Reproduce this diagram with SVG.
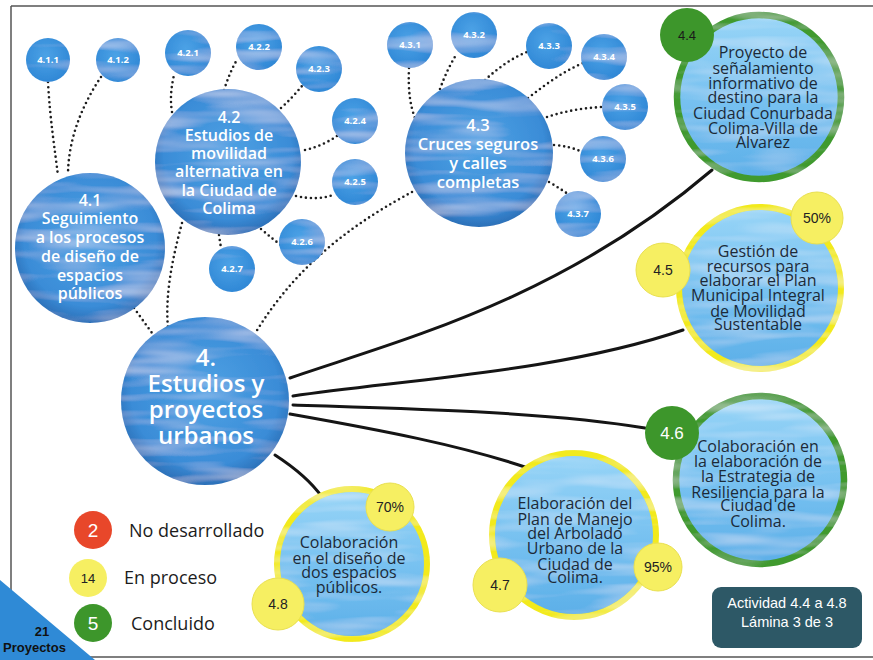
<svg xmlns="http://www.w3.org/2000/svg" width="873" height="660" viewBox="0 0 873 660">
<defs>
<radialGradient id="gBlue" cx="50%" cy="45%" r="55%">
<stop offset="0" stop-color="#4fa2e4"/><stop offset="0.8" stop-color="#3a8cd7"/><stop offset="1" stop-color="#2c70b8"/>
</radialGradient>
<radialGradient id="gSmall" cx="45%" cy="40%" r="60%">
<stop offset="0" stop-color="#4ca2e6"/><stop offset="1" stop-color="#3088d6"/>
</radialGradient>
<linearGradient id="gLight" x1="0" y1="0" x2="0" y2="1">
<stop offset="0" stop-color="#98d5f7"/><stop offset="0.6" stop-color="#72beef"/><stop offset="1" stop-color="#5cafe8"/>
</linearGradient>
<filter id="wc" x="-5%" y="-5%" width="110%" height="110%">
<feTurbulence type="fractalNoise" baseFrequency="0.01 0.08" numOctaves="2" seed="4" result="n"/>
<feColorMatrix in="n" type="matrix" values="0 0 0 0 1 0 0 0 0 1 0 0 0 0 1 0.7 0 0 0 -0.3" result="w"/>
<feComposite in="w" in2="SourceGraphic" operator="in" result="wt"/>
<feMerge><feMergeNode in="SourceGraphic"/><feMergeNode in="wt"/></feMerge>
</filter>
</defs>
<style>
.blue{fill:url(#gBlue);filter:url(#wc)}
.sm{fill:url(#gSmall);filter:url(#wc)}
.light{fill:url(#gLight);filter:url(#wc)}
.gring{stroke:#3f9a2e;stroke-width:6.5}
.yring{stroke:#f2ea1e;stroke-width:6}
.gdot{fill:#3d962b}
.ydot{fill:#f6ef62;stroke:#e9e050;stroke-width:1}
.dot{fill:none;stroke:#1e1e1e;stroke-width:2.6;stroke-dasharray:0 5;stroke-linecap:round}
.sol{fill:none;stroke:#151515;stroke-width:3;stroke-linecap:round}
.wt{fill:#fff;font-family:"Open Sans","DejaVu Sans",sans-serif;font-weight:600;text-anchor:middle}
.st{fill:#fff;font-family:"Open Sans","DejaVu Sans",sans-serif;font-weight:700;font-size:9.5px;text-anchor:middle}
.dt{fill:#1c2a38;font-family:"Open Sans","DejaVu Sans",sans-serif;font-size:16px;text-anchor:middle}
.ar{font-family:"Liberation Sans",Arial,sans-serif;text-anchor:middle}
.lg{fill:#1c1c1c;font-family:"Open Sans","DejaVu Sans",sans-serif;font-size:18px}
</style>
<rect x="0" y="0" width="873" height="660" fill="#fff"/>
<path d="M11,6 H873 M11,6 V640 M0,657 H873" fill="none" stroke="#555" stroke-width="1.5"/>
<polygon points="0,580 0,660 95,660" fill="#2f8ad6"/>
<text x="42" y="636" font-family="Liberation Sans,Arial,sans-serif" font-weight="700" font-size="13" fill="#111" text-anchor="middle">21</text>
<text x="3" y="652" font-family="Liberation Sans,Arial,sans-serif" font-weight="700" font-size="13" fill="#111">Proyectos</text>

<g id="connectors">
<path class="dot" d="M48,82 C50,120 55,150 58,176"/>
<path class="dot" d="M101,77 C82,105 68,140 68,175"/>
<path class="dot" d="M134,308 L152,333"/>
<path class="dot" d="M182,223 C172,260 165,295 168,328"/>
<path class="dot" d="M412,192 C360,220 300,260 256,332"/>
<path class="dot" d="M172,112 C170,100 171,88 174,75"/>
<path class="dot" d="M224,90 C228,78 232,68 238,58"/>
<path class="dot" d="M281,108 C290,100 296,93 302,86"/>
<path class="dot" d="M305,150 C318,147 328,142 337,136"/>
<path class="dot" d="M296,196 C310,199 322,199 333,195"/>
<path class="dot" d="M261,229 C268,235 274,240 281,245"/>
<path class="dot" d="M219,235 L221,248"/>
<path class="dot" d="M409,68 C408,90 410,105 415,118"/>
<path class="dot" d="M440,89 C445,75 450,65 456,55"/>
<path class="dot" d="M485,80 C498,68 512,58 527,52"/>
<path class="dot" d="M528,98 C545,85 562,72 583,63"/>
<path class="dot" d="M547,117 C565,111 583,108 602,107"/>
<path class="dot" d="M554,145 C565,146 574,148 582,152"/>
<path class="dot" d="M549,182 C556,186 562,190 568,194"/>
<path class="sol" d="M290,378 C400,340 560,300 712,170"/>
<path class="sol" d="M293,396 C400,380 560,372 683,330"/>
<path class="sol" d="M293,405 C400,408 550,412 645,428"/>
<path class="sol" d="M290,414 C380,430 460,445 528,468"/>
<path class="sol" d="M275,455 C295,468 310,480 322,497"/>
</g>

<g id="n4-1-1"><circle class="sm" cx="48" cy="60" r="22"/><text class="st" x="48" y="63">4.1.1</text></g>
<g id="n4-1-2"><circle class="sm" cx="118" cy="60" r="22"/><text class="st" x="118" y="63">4.1.2</text></g>
<g id="n4-2-1"><circle class="sm" cx="188" cy="53" r="23"/><text class="st" x="188" y="56">4.2.1</text></g>
<g id="n4-2-2"><circle class="sm" cx="259" cy="47" r="23"/><text class="st" x="259" y="50">4.2.2</text></g>
<g id="n4-2-3"><circle class="sm" cx="319" cy="69" r="23"/><text class="st" x="319" y="72">4.2.3</text></g>
<g id="n4-2-4"><circle class="sm" cx="355" cy="121" r="23"/><text class="st" x="355" y="124">4.2.4</text></g>
<g id="n4-2-5"><circle class="sm" cx="355" cy="182" r="23"/><text class="st" x="355" y="185">4.2.5</text></g>
<g id="n4-2-6"><circle class="sm" cx="302" cy="242" r="23"/><text class="st" x="302" y="245">4.2.6</text></g>
<g id="n4-2-7"><circle class="sm" cx="232" cy="269" r="23"/><text class="st" x="232" y="272">4.2.7</text></g>
<g id="n4-3-1"><circle class="sm" cx="410" cy="45" r="23"/><text class="st" x="410" y="48">4.3.1</text></g>
<g id="n4-3-2"><circle class="sm" cx="474" cy="35" r="23"/><text class="st" x="474" y="38">4.3.2</text></g>
<g id="n4-3-3"><circle class="sm" cx="549" cy="46" r="23"/><text class="st" x="549" y="49">4.3.3</text></g>
<g id="n4-3-4"><circle class="sm" cx="604" cy="57" r="23"/><text class="st" x="604" y="60">4.3.4</text></g>
<g id="n4-3-5"><circle class="sm" cx="625" cy="107" r="23"/><text class="st" x="625" y="110">4.3.5</text></g>
<g id="n4-3-6"><circle class="sm" cx="603" cy="159" r="23"/><text class="st" x="603" y="162">4.3.6</text></g>
<g id="n4-3-7"><circle class="sm" cx="578" cy="214" r="23"/><text class="st" x="578" y="217">4.3.7</text></g>

<g id="n4-1"><circle class="blue" cx="90" cy="248" r="75"/>
<text class="wt" font-size="16"><tspan x="90" y="206">4.1</tspan><tspan x="90" y="224">Seguimiento</tspan><tspan x="90" y="243">a los procesos</tspan><tspan x="90" y="262">de diseño de</tspan><tspan x="90" y="281">espacios</tspan><tspan x="90" y="299">públicos</tspan></text></g>
<g id="n4-2"><circle class="blue" cx="228" cy="162" r="73"/>
<text class="wt" font-size="16"><tspan x="229" y="123">4.2</tspan><tspan x="229" y="141">Estudios de</tspan><tspan x="229" y="159">movilidad</tspan><tspan x="229" y="177">alternativa en</tspan><tspan x="229" y="196">la Ciudad de</tspan><tspan x="229" y="214">Colima</tspan></text></g>
<g id="n4-3"><circle class="blue" cx="479" cy="153" r="74"/>
<text class="wt" font-size="16.5"><tspan x="478" y="131">4.3</tspan><tspan x="478" y="150">Cruces seguros</tspan><tspan x="478" y="169">y calles</tspan><tspan x="478" y="188">completas</tspan></text></g>
<g id="n4"><circle class="blue" cx="205" cy="401" r="84"/>
<text class="wt" font-size="24" font-weight="700"><tspan x="206" y="366">4.</tspan><tspan x="206" y="392">Estudios y</tspan><tspan x="206" y="418">proyectos</tspan><tspan x="206" y="444">urbanos</tspan></text></g>

<g id="n4-4"><circle class="light gring" cx="759" cy="97" r="82"/>
<circle class="gdot" cx="687" cy="35" r="27"/><text class="ar" x="687" y="40" font-size="13" fill="#1a1a1a">4.4</text>
<text class="dt"><tspan x="763" y="58">Proyecto de</tspan><tspan x="763" y="74">señalamiento</tspan><tspan x="763" y="89">informativo de</tspan><tspan x="763" y="103">destino para la</tspan><tspan x="763" y="119">Ciudad Conurbada</tspan><tspan x="763" y="134">Colima-Villa de</tspan><tspan x="763" y="148">Álvarez</tspan></text></g>

<g id="n4-5"><circle class="light yring" cx="760" cy="288" r="81"/>
<circle class="ydot" cx="663" cy="270" r="27"/><text class="ar" x="663" y="275" font-size="14" fill="#222">4.5</text>
<circle class="ydot" cx="817" cy="218" r="26"/><text class="ar" x="817" y="223" font-size="14" fill="#222">50%</text>
<text class="dt"><tspan x="758" y="257">Gestión de</tspan><tspan x="758" y="272">recursos para</tspan><tspan x="758" y="286">elaborar el Plan</tspan><tspan x="758" y="301">Municipal Integral</tspan><tspan x="758" y="317">de Movilidad</tspan><tspan x="758" y="330">Sustentable</tspan></text></g>

<g id="n4-6"><circle class="light gring" cx="760" cy="480" r="84"/>
<circle class="gdot" cx="672" cy="433" r="27"/><text class="ar" x="672" y="439" font-size="17" fill="#fff">4.6</text>
<text class="dt"><tspan x="758" y="452">Colaboración en</tspan><tspan x="758" y="467">la elaboración de</tspan><tspan x="758" y="482">la Estrategia de</tspan><tspan x="758" y="498">Resiliencia para la</tspan><tspan x="758" y="511">Ciudad de</tspan><tspan x="758" y="527">Colima.</tspan></text></g>

<g id="n4-7"><circle class="light yring" cx="574" cy="535" r="82"/>
<circle class="ydot" cx="500" cy="585" r="27"/><text class="ar" x="500" y="590" font-size="14" fill="#222">4.7</text>
<circle class="ydot" cx="658" cy="567" r="24"/><text class="ar" x="658" y="572" font-size="14" fill="#222">95%</text>
<text class="dt"><tspan x="575" y="509">Elaboración del</tspan><tspan x="575" y="525">Plan de Manejo</tspan><tspan x="575" y="539">del Arbolado</tspan><tspan x="575" y="554">Urbano de la</tspan><tspan x="575" y="570">Ciudad de</tspan><tspan x="575" y="583">Colima.</tspan></text></g>

<g id="n4-8"><circle class="light yring" cx="352" cy="564" r="75"/>
<circle class="ydot" cx="390" cy="507" r="24"/><text class="ar" x="390" y="512" font-size="14" fill="#222">70%</text>
<circle class="ydot" cx="278" cy="604" r="26"/><text class="ar" x="278" y="609" font-size="14" fill="#222">4.8</text>
<text class="dt"><tspan x="349" y="548">Colaboración</tspan><tspan x="349" y="564">en el diseño de</tspan><tspan x="349" y="578">dos espacios</tspan><tspan x="349" y="593">públicos.</tspan></text></g>

<g id="legend">
<circle cx="93" cy="530" r="19" fill="#e8472a"/><text class="ar" x="93" y="537" font-size="19" fill="#fff">2</text>
<text class="lg" x="129" y="537">No desarrollado</text>
<circle cx="88" cy="578" r="19" fill="#f6ef62"/><text class="ar" x="88" y="583" font-size="13" fill="#222">14</text>
<text class="lg" x="124" y="584">En proceso</text>
<circle cx="93" cy="623" r="19" fill="#3d962b"/><text class="ar" x="93" y="630" font-size="19" fill="#fff">5</text>
<text class="lg" x="131" y="630">Concluido</text>
</g>

<g id="badge"><rect x="712" y="587" width="150" height="61" rx="9" fill="#2d5866"/>
<text class="ar" font-size="14.5" fill="#fff"><tspan x="787" y="608">Actividad 4.4 a 4.8</tspan><tspan x="787" y="627">Lámina 3 de 3</tspan></text></g>
</svg>
